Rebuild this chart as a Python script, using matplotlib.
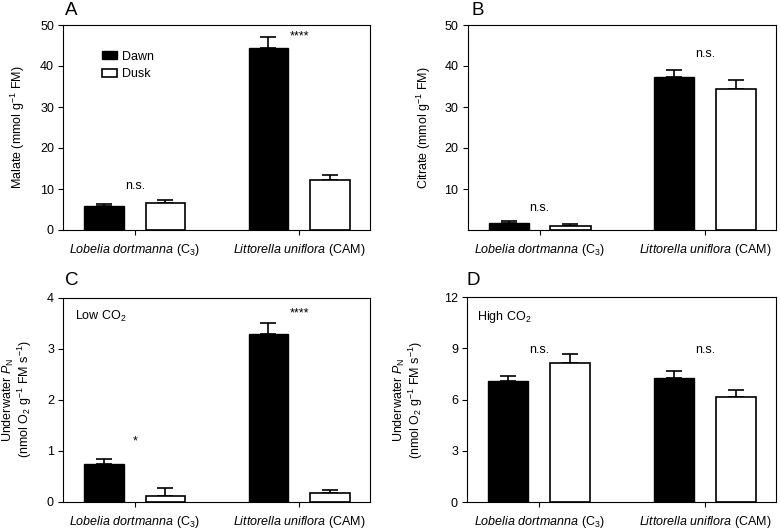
import matplotlib
matplotlib.use("Agg")
import matplotlib.pyplot as plt
import numpy as np
from matplotlib.patches import Patch

plt.rcParams['font.family'] = ['Liberation Sans', 'DejaVu Sans']
plt.rcParams['mathtext.fontset'] = 'custom'
plt.rcParams['mathtext.rm'] = 'Liberation Sans'
plt.rcParams['mathtext.it'] = 'Liberation Sans:italic'
plt.rcParams['mathtext.bf'] = 'Liberation Sans:bold'

species = [r"$\mathit{Lobelia\ dortmanna}$ (C$_3$)", r"$\mathit{Littorella\ uniflora}$ (CAM)"]
series = ["Dawn", "Dusk"]

malate_dawn = [5.85, 44.4]
malate_dawn_err = [0.45, 2.6]
malate_dusk = [6.6, 12.2]
malate_dusk_err = [0.7, 1.1]

citrate_dawn = [1.6, 37.4]
citrate_dawn_err = [0.5, 1.6]
citrate_dusk = [1.05, 34.3]
citrate_dusk_err = [0.4, 2.2]

lowco2_dawn = [0.73, 3.29]
lowco2_dawn_err = [0.11, 0.21]
lowco2_dusk = [0.12, 0.18]
lowco2_dusk_err = [0.14, 0.05]

highco2_dawn = [7.1, 7.25]
highco2_dawn_err = [0.31, 0.4]
highco2_dusk = [8.14, 6.15]
highco2_dusk_err = [0.52, 0.43]

fig = plt.figure(figsize=(7.8, 5.29), dpi=100)

W, H = 780, 529
def axpos(l, r, t, b):
    return [l / W, (H - b) / H, (r - l) / W, (b - t) / H]

axA = fig.add_axes(axpos(63, 370, 25, 230))
axB = fig.add_axes(axpos(467.5, 776, 25, 230))
axC = fig.add_axes(axpos(63, 370, 297.5, 501.7))
axD = fig.add_axes(axpos(467, 776, 297, 502.3))

x = np.arange(len(species))
bw = 0.242
off = 0.187

def draw(ax, dawn, dawn_err, dusk, dusk_err, ylim, yticks):
    ax.bar(x - off, dawn, bw, color='black', edgecolor='black', linewidth=1.0, zorder=2)
    ax.bar(x + off, dusk, bw, color='white', edgecolor='black', linewidth=1.2, zorder=2)
    ax.errorbar(x - off, dawn, yerr=[np.zeros(len(dawn)), dawn_err], fmt='none',
                ecolor='black', elinewidth=1.2, capsize=5.5, capthick=1.2, zorder=1)
    ax.errorbar(x + off, dusk, yerr=[np.zeros(len(dusk)), dusk_err], fmt='none',
                ecolor='black', elinewidth=1.2, capsize=5.5, capthick=1.2, zorder=1)
    ax.set_xlim(-0.436, 1.43)
    ax.set_ylim(*ylim)
    ax.set_yticks(yticks)
    ax.set_xticks(x)
    ax.set_xticklabels(species, fontsize=9)
    ax.tick_params(axis='both', direction='out', length=3.5, width=0.8, labelsize=9, pad=3)
    ax.tick_params(axis='x', pad=5)
    for s in ax.spines.values():
        s.set_linewidth(0.8)

draw(axA, malate_dawn, malate_dawn_err, malate_dusk, malate_dusk_err, (0, 50), [0, 10, 20, 30, 40, 50])
draw(axB, citrate_dawn, citrate_dawn_err, citrate_dusk, citrate_dusk_err, (0, 50), [10, 20, 30, 40, 50])
draw(axC, lowco2_dawn, lowco2_dawn_err, lowco2_dusk, lowco2_dusk_err, (0, 4), [0, 1, 2, 3, 4])
draw(axD, highco2_dawn, highco2_dawn_err, highco2_dusk, highco2_dusk_err, (0, 12), [0, 3, 6, 9, 12])

axA.set_ylabel("Malate (mmol g$^{-1}$ FM)", fontsize=9)
axA.yaxis.set_label_coords(-0.117, 0.5)
axB.set_ylabel("Citrate (mmol g$^{-1}$ FM)", fontsize=9)
axB.yaxis.set_label_coords(-0.111, 0.5)
pn_label = "Underwater $P_{\\mathrm{N}}$\n(nmol O$_2$ g$^{-1}$ FM s$^{-1}$)"
axC.set_ylabel(pn_label, fontsize=9, linespacing=0.95)
axC.yaxis.set_label_coords(-0.095, 0.5)
axD.set_ylabel(pn_label, fontsize=9, linespacing=0.95)
axD.yaxis.set_label_coords(-0.137, 0.5)

# legend
handles = [Patch(facecolor='black', edgecolor='black', linewidth=1.0),
           Patch(facecolor='white', edgecolor='black', linewidth=1.2)]
axA.legend(handles, series, loc='upper left', bbox_to_anchor=(0.126, 0.875), frameon=False,
           fontsize=9, handlelength=1.2, handleheight=0.65, handletextpad=0.45,
           labelspacing=0.45, borderpad=0, borderaxespad=0)

fs = 9
axA.text(0, 10.0, "n.s.", ha='center', va='baseline', fontsize=fs)
axA.text(1, 46.6, "****", ha='center', va='baseline', fontsize=fs)
axB.text(0, 4.75, "n.s.", ha='center', va='baseline', fontsize=fs)
axB.text(1, 42.3, "n.s.", ha='center', va='baseline', fontsize=fs)
axC.text(0, 1.12, "*", ha='center', va='baseline', fontsize=fs)
axC.text(1, 3.62, "****", ha='center', va='baseline', fontsize=fs)
axC.text(0.039, 0.89, "Low CO$_2$", transform=axC.transAxes, ha='left', va='baseline', fontsize=fs)
axD.text(0.032, 0.887, "High CO$_2$", transform=axD.transAxes, ha='left', va='baseline', fontsize=fs)
axD.text(0, 8.74, "n.s.", ha='center', va='baseline', fontsize=fs)
axD.text(1, 8.74, "n.s.", ha='center', va='baseline', fontsize=fs)

for lab, px, py in [("A", 65, 15), ("B", 472, 15), ("C", 65, 285), ("D", 467, 285)]:
    fig.text(px / W, (H - py) / H, lab, fontsize=13.5, ha='left', va='baseline')

fig.savefig("out.png", dpi=100)
